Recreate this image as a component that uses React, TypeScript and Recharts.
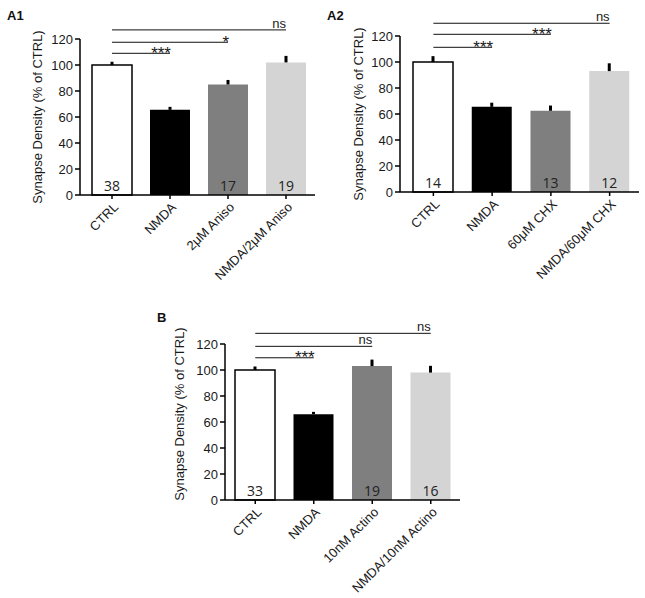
import React from "react";
import {
  BarChart,
  Bar,
  XAxis,
  YAxis,
  Cell,
  ErrorBar,
  LabelList,
  ReferenceLine,
} from "recharts";

const FONT = '"Liberation Sans", Arial, Helvetica, sans-serif';
const BAR_COLORS = ["#ffffff", "#000000", "#7f7f7f", "#d4d4d4"];
const Y_TICKS = [0, 20, 40, 60, 80, 100, 120];

// A1 - anisomycin
const a1Categories = ["CTRL", "NMDA", "2μM Aniso", "NMDA/2μM Aniso"];
const a1Means = [100, 65.5, 85, 102];
const a1Sem = [2.5, 2.3, 3.5, 5];
const a1N = ["38", "", "17", "19"];
const a1Sig = [
  { to: "NMDA", y: 109, text: "***" },
  { to: "2μM Aniso", y: 117.5, text: "*" },
  { to: "NMDA/2μM Aniso", y: 127, text: "ns" },
];

// A2 - cycloheximide
const a2Categories = ["CTRL", "NMDA", "60μM CHX", "NMDA/60μM CHX"];
const a2Means = [100, 65.5, 62.5, 93];
const a2Sem = [4.5, 3.2, 4, 6];
const a2N = ["14", "", "13", "12"];
const a2Sig = [
  { to: "NMDA", y: 111.3, text: "***" },
  { to: "60μM CHX", y: 121.3, text: "***" },
  { to: "NMDA/60μM CHX", y: 129.8, text: "ns" },
];

// B - actinomycin
const bCategories = ["CTRL", "NMDA", "10nM Actino", "NMDA/10nM Actino"];
const bMeans = [100, 66, 103, 98];
const bSem = [2.7, 1.8, 5, 5.2];
const bN = ["33", "", "19", "16"];
const bSig = [
  { to: "NMDA", y: 109.4, text: "***" },
  { to: "10nM Actino", y: 118.2, text: "ns" },
  { to: "NMDA/10nM Actino", y: 128.2, text: "ns" },
];

type Sig = { to: string; y: number; text: string };

interface PanelProps {
  title: string;
  categories: string[];
  means: number[];
  sem: number[];
  n: string[];
  sig: Sig[];
  left: number;
  top: number;
  width: number;
  height: number;
  yAxisWidth: number;
  margin: { top: number; right: number; bottom: number; left: number };
  xAxisHeight: number;
  padLeft: number;
  label: { x: number; y: number };
  titlePos: { x: number; y: number };
}

const XTick = ({ x, y, payload }: any) => (
  <g transform={`translate(${x + 7},${y + 7})`}>
    <text
      x={0}
      y={0}
      textAnchor="end"
      transform="rotate(-45)"
      fontSize={13}
      fontFamily={FONT}
      fill="#1a1a1a"
    >
      {payload.value}
    </text>
  </g>
);

const Panel = (p: PanelProps) => {
  const data = p.categories.map((c, i) => ({
    name: c,
    mean: p.means[i],
    err: [0, p.sem[i]],
    n: p.n[i],
  }));

  return (
    <div style={{ position: "absolute", left: p.left, top: p.top }}>
      <div
        style={{
          position: "absolute",
          left: p.titlePos.x,
          top: p.titlePos.y,
          fontWeight: "bold",
          fontSize: 13,
          lineHeight: "13px",
          fontFamily: FONT,
          color: "#111",
        }}
      >
        {p.title}
      </div>
      <BarChart width={p.width} height={p.height} data={data} margin={p.margin} barSize={40}>
        <XAxis
          dataKey="name"
          interval={0}
          height={p.xAxisHeight}
          padding={{ left: p.padLeft, right: 0 }}
          tickSize={4}
          axisLine={{ stroke: "#000", strokeWidth: 1.5 }}
          tickLine={{ stroke: "#000", strokeWidth: 1.5 }}
          tick={<XTick />}
        />
        <YAxis
          domain={[0, 120]}
          ticks={Y_TICKS}
          width={p.yAxisWidth}
          tickSize={5}
          tickMargin={2}
          axisLine={{ stroke: "#000", strokeWidth: 1.5 }}
          tickLine={{ stroke: "#000", strokeWidth: 1.5 }}
          tick={{ fontSize: 13, fill: "#1a1a1a", fontFamily: FONT }}
          label={{
            value: "Synapse Density (% of CTRL)",
            content: () => (
              <text
                x={p.label.x}
                y={p.label.y}
                transform={`rotate(-90 ${p.label.x} ${p.label.y})`}
                textAnchor="middle"
                dominantBaseline="central"
                fontSize={13}
                fontFamily={FONT}
                fill="#1a1a1a"
              >
                Synapse Density (% of CTRL)
              </text>
            ),
          }}
        />
        {p.sig.map((s, i) => (
          <ReferenceLine
            key={i}
            segment={[
              { x: "CTRL", y: s.y },
              { x: s.to, y: s.y },
            ]}
            stroke="#111"
            strokeWidth={1}
            ifOverflow="visible"
            label={{
              value: s.text,
              content: (lp: any) => {
                const vb = lp.viewBox || {};
                const isStar = s.text.includes("*");
                return (
                  <text
                    x={vb.x + vb.width + (isStar ? 1 : 0)}
                    y={vb.y + (isStar ? 5.5 : -2)}
                    textAnchor="end"
                    fontSize={isStar ? 17 : 13}
                    fontFamily={FONT}
                    fill="#1a1a1a"
                  >
                    {s.text}
                  </text>
                );
              },
            }}
          />
        ))}
        <Bar dataKey="mean" isAnimationActive={false} stroke="#000" strokeWidth={0}>
          {data.map((d, i) => (
            <Cell
              key={d.name}
              fill={BAR_COLORS[i]}
              stroke="#000"
              strokeWidth={i === 0 ? 1.5 : 0}
            />
          ))}
          <ErrorBar
            dataKey="err"
            direction="y"
            width={0}
            stroke="#000"
            strokeWidth={3}
            isAnimationActive={false}
          />
          <LabelList
            dataKey="n"
            content={(lp: any) => (
              <text
                x={lp.x + lp.width / 2}
                y={lp.y + lp.height - 4}
                textAnchor="middle"
                fontSize={14}
                fontFamily='"Open Sans", "Liberation Sans", Arial, sans-serif'
                fill="#222"
              >
                {lp.value}
              </text>
            )}
          />
        </Bar>
      </BarChart>
    </div>
  );
};

export default function App() {
  return (
    <div
      style={{
        position: "absolute",
        left: 0,
        top: 0,
        width: 645,
        height: 598,
        background: "#fff",
        overflow: "hidden",
      }}
    >
      <Panel
        title="A1"
        categories={a1Categories}
        means={a1Means}
        sem={a1Sem}
        n={a1N}
        sig={a1Sig}
        left={0}
        top={0}
        width={320}
        height={300}
        yAxisWidth={80}
        margin={{ top: 39, right: 5, bottom: 5, left: 0 }}
        xAxisHeight={100}
        padLeft={3}
        label={{ x: 37, y: 117 }}
        titlePos={{ x: 7, y: 9 }}
      />
      <Panel
        title="A2"
        categories={a2Categories}
        means={a2Means}
        sem={a2Sem}
        n={a2N}
        sig={a2Sig}
        left={320}
        top={0}
        width={325}
        height={300}
        yAxisWidth={80}
        margin={{ top: 36, right: 6, bottom: 5, left: 0 }}
        xAxisHeight={103}
        padLeft={4}
        label={{ x: 38, y: 114 }}
        titlePos={{ x: 7, y: 9 }}
      />
      <Panel
        title="B"
        categories={bCategories}
        means={bMeans}
        sem={bSem}
        n={bN}
        sig={bSig}
        left={160}
        top={300}
        width={320}
        height={298}
        yAxisWidth={65}
        margin={{ top: 44, right: 20, bottom: 5, left: 0 }}
        xAxisHeight={93}
        padLeft={1}
        label={{ x: 19, y: 114 }}
        titlePos={{ x: -3, y: 11 }}
      />
    </div>
  );
}
